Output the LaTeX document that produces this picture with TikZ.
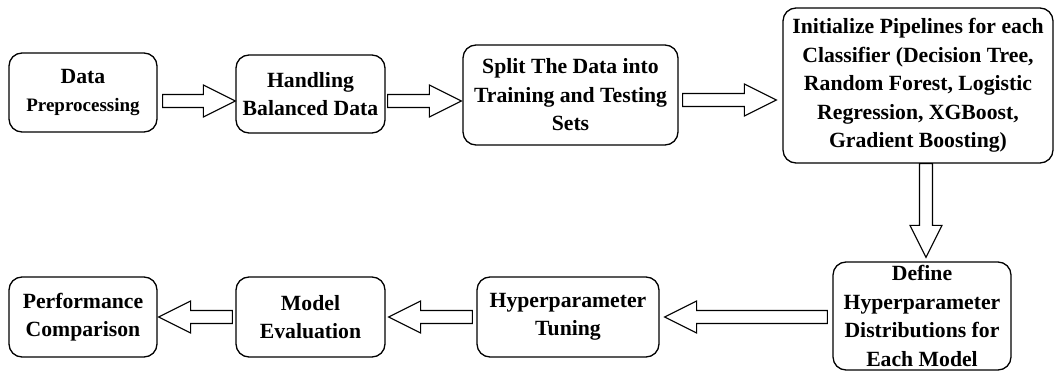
\documentclass[tikz,border=0pt]{standalone}
\usepackage{fontspec}
\setmainfont{Liberation Serif}
\usetikzlibrary{calc}

\tikzset{
  stage/.style={draw, line width=1.3pt, rounded corners=13pt, align=center,
    inner sep=0pt, font=\fontsize{21.7}{28.5}\selectfont\bfseries},
  blockarrow/.style={draw, line width=1.1pt, line join=miter, fill=white},
}

% hollow block arrow from point #1 to tip #2
\newcommand\hollowarrow[2]{%
  \coordinate (ha-s) at (#1);
  \coordinate (ha-t) at (#2);
  \coordinate (ha-h) at ($(ha-t)!32pt!(ha-s)$);
  \draw[blockarrow]
    ($(ha-s)!6.5pt!90:(ha-t)$) -- ($(ha-h)!6.5pt!-90:(ha-s)$)
    -- ($(ha-h)!16pt!-90:(ha-s)$) -- (ha-t)
    -- ($(ha-h)!16pt!90:(ha-s)$) -- ($(ha-h)!6.5pt!90:(ha-s)$)
    -- ($(ha-s)!6.5pt!-90:(ha-t)$) -- cycle;
}

\begin{document}
\begin{tikzpicture}[x=1pt, y=-1pt]
\useasboundingbox (0,0) rectangle (1054,371);

% top row
\node[stage, minimum width=148pt, minimum height=79pt] (prep) at (83,92.5)
  {Data\\{\fontsize{19}{28.5}\selectfont Preprocessing}};
\node[stage, minimum width=149pt, minimum height=78pt] (bal) at (310.5,94)
  {Handling\\Balanced Data};
\node[stage, minimum width=215pt, minimum height=100pt] (split) at (570.5,95)
  {Split The Data into\\Training and Testing\\Sets};
\node[stage, minimum width=270pt, minimum height=155pt] (pipe) at (918,85.5)
  {Initialize Pipelines for each\\Classifier (Decision Tree,\\Random Forest, Logistic\\Regression, XGBoost,\\Gradient Boosting)};

% bottom row
\node[stage, minimum width=178pt, minimum height=108pt] (dist) at (922,316)
  {Define\\Hyperparameter\\Distributions for\\Each Model};
\node[stage, minimum width=182pt, minimum height=80pt] (tune) at (568,317)
  {Hyperparameter\\Tuning};
\node[stage, minimum width=149pt, minimum height=80pt] (eval) at (310.5,317)
  {Model\\Evaluation};
\node[stage, minimum width=148pt, minimum height=80pt] (comp) at (83,317)
  {Performance\\Comparison};

% connectors
\hollowarrow{$(prep.east)+(5,8.5)$}{$(bal.west)+(0,7)$}
\hollowarrow{$(bal.east)+(2,7)$}{$(split.west)+(-1,6)$}
\hollowarrow{$(split.east)+(4,5)$}{$(pipe.west)+(-6,14.5)$}
\hollowarrow{$(pipe.south)+(8,0)$}{$(dist.north)+(4,-4)$}
\hollowarrow{$(dist.west)+(-5,1)$}{$(tune.east)+(5,0)$}
\hollowarrow{$(tune.west)+(-4,0)$}{$(eval.east)+(3,0)$}
\hollowarrow{$(eval.west)+(-3,0)$}{$(comp.east)+(1,0)$}
\end{tikzpicture}
\end{document}
